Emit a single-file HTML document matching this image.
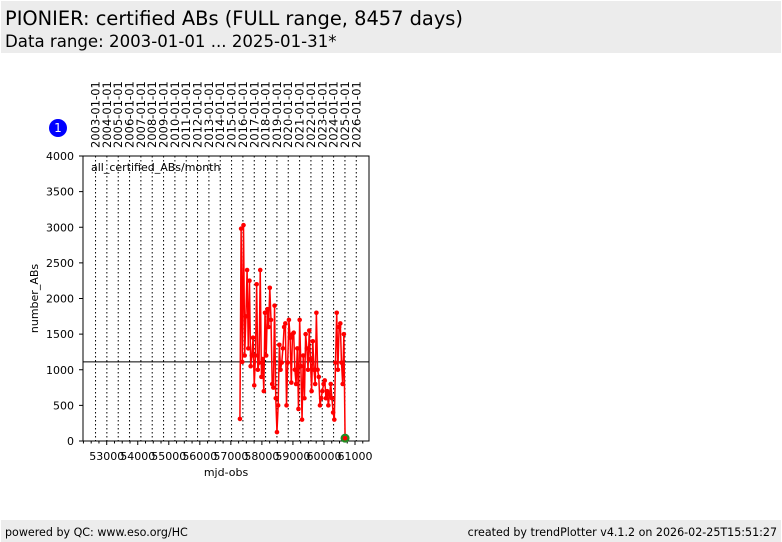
<!DOCTYPE html>
<html><head><meta charset="utf-8"><style>
body{margin:0;width:782px;height:542px;background:#fff;font-family:"DejaVu Sans","Liberation Sans",sans-serif;overflow:hidden;position:relative}
.hdr{position:absolute;left:1px;top:1px;width:780px;height:52px;background:#ececec}
.t1{position:absolute;left:4px;top:6px;font-size:19.4px}
.t2{position:absolute;left:4px;top:31px;font-size:16.6px}
.ftr{position:absolute;left:1px;top:520px;width:780px;height:22px;background:#ececec;font-size:11.1px}
</style></head><body>
<div class="hdr">
<div class="t1">PIONIER: certified ABs (FULL range, 8457 days)</div>
<div class="t2">Data range: 2003-01-01 ... 2025-01-31*</div>
</div>
<svg id="ch" width="782" height="542" style="position:absolute;left:0;top:0"></svg>
<div class="ftr">
<span style="position:absolute;left:4px;top:6px">powered by QC: www.eso.org/HC</span>
<span style="position:absolute;right:4px;top:6px">created by trendPlotter v4.1.2 on 2026-02-25T15:51:27</span>
</div>
<script>
const yTicks=[0,500,1000,1500,2000,2500,3000,3500,4000];
const xTicks=[53000,54000,55000,56000,57000,58000,59000,60000,61000];
const years=[2003,2004,2005,2006,2007,2008,2009,2010,2011,2012,2013,2014,2015,2016,2017,2018,2019,2020,2021,2022,2023,2024,2025,2026];
const values=[310,2980,1110,3030,1200,1750,2400,1300,2250,1050,1200,1450,780,1200,2200,1000,1100,2400,900,1150,700,1800,1200,1850,1600,2150,1700,800,750,1900,600,125,500,1350,1000,1100,1300,1600,1650,500,1100,1700,1450,820,1500,1520,1000,800,1300,450,1700,1050,300,1200,600,1500,1300,1000,1550,1150,700,1400,1000,800,1800,1000,900,500,600,700,800,850,600,700,500,650,800,600,400,300,1100,1800,1000,1600,1650,1100,800,1500,40];
const startMjd=57292, endMjd=60680;
const refLine=1110;
const svg=document.getElementById('ch');const NS='http://www.w3.org/2000/svg';
const L=83,R=369,T=156,B=441,x0=52236,x1=61451;
const X=v=>L+(v-x0)/(x1-x0)*(R-L), Y=v=>B-v/4000*(B-T);
function mk(t,a,txt){const e=document.createElementNS(NS,t);for(const k in a)e.setAttribute(k,a[k]);if(txt!==undefined)e.textContent=txt;svg.appendChild(e);return e;}
const ymd=y=>Math.round(52640+(y-2003)*365.25);
years.forEach(y=>{const x=X(ymd(y));
const l=mk('line',{x1:x,x2:x,y1:T,y2:B,stroke:'#000','stroke-width':1,'stroke-dasharray':'1.5,2.5'});

const t=mk('text',{x:0,y:0,transform:`translate(${x+4},148) rotate(-90)`,'font-size':11.5,'font-family':'DejaVu Sans,sans-serif'},y+'-01-01');
});
const fr=mk('rect',{x:L,y:T,width:R-L,height:B-T,fill:'none',stroke:'#000'});

yTicks.forEach(v=>{const y=Y(v);mk('line',{x1:L-4,x2:L,y1:y,y2:y,stroke:'#000'});
const t=mk('text',{x:L-9,y:y+4,'text-anchor':'end','font-size':11},v);
});
for(let m=52250;m<=61450;m+=250){const x=X(m);const major=m%1000===0;mk('line',{x1:x,x2:x,y1:B,y2:B+(major?4:2.5),stroke:'#000'});}
xTicks.forEach(v=>{const t=mk('text',{x:X(v),y:B+19,'text-anchor':'middle','font-size':11},v);
});
const xt=mk('text',{x:(L+R)/2,y:476,'text-anchor':'middle','font-size':11},'mjd-obs');

const yt=mk('text',{x:0,y:0,transform:`translate(38,${(T+B)/2}) rotate(-90)`,'text-anchor':'middle','font-size':11},'number_ABs');

const lg=mk('text',{x:91,y:171,'font-size':11},'all_certified_ABs/month');

const hl=mk('line',{x1:L,x2:R,y1:Y(refLine),y2:Y(refLine),stroke:'#000','stroke-width':1});

const n=values.length;const mj=values.map((v,i)=>startMjd+(endMjd-startMjd)*i/(n-1));
const pl=mk('polyline',{points:values.map((v,i)=>X(mj[i])+','+Y(v)).join(' '),fill:'none',stroke:'#f00','stroke-width':1.5});

const last=n-1;
const g=mk('circle',{cx:X(mj[last]),cy:Y(values[last]),r:4.5,fill:'#228b22'});

values.forEach((v,i)=>{const c=mk('circle',{cx:X(mj[i]),cy:Y(v),r:2.3,fill:'#f00'});
});
const b=mk('circle',{cx:58,cy:128,r:9,fill:'#0000ff'});

const bt=mk('text',{x:58,y:132,'text-anchor':'middle','font-size':12,fill:'#fff'},'1');

</script>
</body></html>
